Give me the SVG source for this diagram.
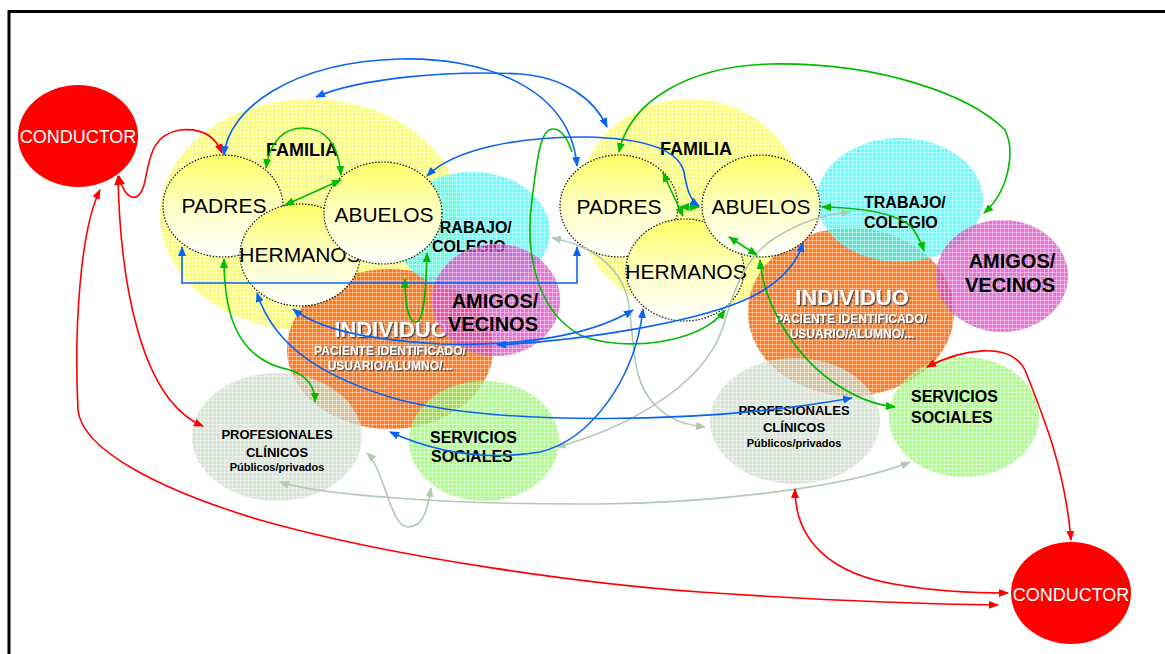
<svg xmlns="http://www.w3.org/2000/svg" width="1165" height="654" viewBox="0 0 1165 654">
<style>
.f{font-family:"Liberation Sans",Arial,sans-serif}
.b{font-weight:bold}
.m{text-anchor:middle}
.nd{fill:url(#ng);stroke:#111;stroke-width:1.2;stroke-dasharray:1.5 1.6}
.nt{font-size:21px;fill:#000}
.gr{fill:url(#grid)}
.c{fill:none;stroke-width:1.6}
.cb{stroke:#0a64f0;marker-start:url(#ab);marker-end:url(#ab)}
.cg{stroke:#00bb00;marker-start:url(#ag);marker-end:url(#ag)}
.cr{stroke:#ff0000;marker-start:url(#ar);marker-end:url(#ar)}
.cy{stroke:#b2c9b2;marker-start:url(#ay);marker-end:url(#ay)}
.ind{font-size:22px;fill:#fff;filter:url(#sh)}
.sub{font-size:12px;fill:#fff;filter:url(#sh)}
.cond{font-size:18px;fill:#fff}
</style>
<defs>
<linearGradient id="ng" x1="0" y1="0" x2="0" y2="1">
<stop offset="0" stop-color="#ffff66"/>
<stop offset="0.5" stop-color="#ffffc4"/>
<stop offset="1" stop-color="#ffffff"/>
</linearGradient>
<pattern id="grid" width="4" height="4" patternUnits="userSpaceOnUse">
<path d="M0 0.5H4M0.5 0V4" stroke="#ffffff" stroke-opacity="0.4" stroke-width="1"/>
</pattern>
<filter id="sh" x="-10%" y="-30%" width="120%" height="160%">
<feDropShadow dx="1.3" dy="1.3" stdDeviation="0.4" flood-color="#404040" flood-opacity="0.9"/>
</filter>
<marker id="ab" viewBox="0 0 10 8" refX="9" refY="4" markerWidth="10" markerHeight="8" markerUnits="userSpaceOnUse" orient="auto-start-reverse"><path d="M0,0L10,4L0,8z" fill="#0a64f0"/></marker>
<marker id="ag" viewBox="0 0 10 8" refX="9" refY="4" markerWidth="10" markerHeight="8" markerUnits="userSpaceOnUse" orient="auto-start-reverse"><path d="M0,0L10,4L0,8z" fill="#00bb00"/></marker>
<marker id="ar" viewBox="0 0 10 8" refX="9" refY="4" markerWidth="10" markerHeight="8" markerUnits="userSpaceOnUse" orient="auto-start-reverse"><path d="M0,0L10,4L0,8z" fill="#ff0000"/></marker>
<marker id="ay" viewBox="0 0 10 8" refX="9" refY="4" markerWidth="10" markerHeight="8" markerUnits="userSpaceOnUse" orient="auto-start-reverse"><path d="M0,0L10,4L0,8z" fill="#b2c9b2"/></marker>
</defs>
<rect width="1165" height="654" fill="#ffffff"/>
<path d="M9,654V11.5H1165" fill="none" stroke="#000" stroke-width="3"/>

<!-- left cluster -->
<g id="familia-izq">
<ellipse cx="310" cy="215" rx="150" ry="116" fill="#ffff40" fill-opacity="0.8"/>
<ellipse class="gr" cx="310" cy="215" rx="150" ry="116"/>
<text class="f b m" x="302" y="156" font-size="18">FAMILIA</text>
</g>
<g id="individuo-izq">
<ellipse cx="390" cy="349" rx="103" ry="80" fill="#ff6600" fill-opacity="0.88"/>
<ellipse class="gr" cx="390" cy="349" rx="103" ry="80"/>
<text class="f b m ind" x="391" y="337">INDIVIDUO</text>
<text class="f b m sub" x="390" y="355">PACIENTE IDENTIFICADO/</text>
<text class="f b m sub" x="390" y="370">USUARIO/ALUMNO/...</text>
</g>
<g id="trabajo-izq">
<ellipse cx="472" cy="232" rx="78" ry="60" fill="#33ffff" fill-opacity="0.75"/>
<ellipse class="gr" cx="472" cy="232" rx="78" ry="60"/>
<text class="f b" x="430" y="233" font-size="16">TRABAJO/</text>
<text class="f b" x="432" y="252" font-size="16">COLEGIO</text>
</g>
<g id="amigos-izq">
<ellipse cx="496" cy="300" rx="64" ry="56" fill="#dd44c8" fill-opacity="0.75"/>
<ellipse class="gr" cx="496" cy="300" rx="64" ry="56"/>
<text class="f b m" x="495" y="308" font-size="20">AMIGOS/</text>
<text class="f b m" x="493" y="331" font-size="20">VECINOS</text>
</g>
<g id="profesionales-izq">
<ellipse cx="277" cy="437" rx="85" ry="64" fill="#c8dcc6" fill-opacity="0.7"/>
<ellipse class="gr" cx="277" cy="437" rx="85" ry="64"/>
<text class="f b m" x="277" y="439" font-size="13">PROFESIONALES</text>
<text class="f b m" x="277" y="457" font-size="13">CLÍNICOS</text>
<text class="f b m" x="277" y="471" font-size="11">Públicos/privados</text>
</g>
<g id="servicios-izq">
<ellipse cx="484" cy="441" rx="75" ry="60" fill="#88ff55" fill-opacity="0.7"/>
<ellipse class="gr" cx="484" cy="441" rx="75" ry="60"/>
<text class="f b" x="430" y="443" font-size="16">SERVICIOS</text>
<text class="f b" x="431" y="462" font-size="16">SOCIALES</text>
</g>
<g id="padres-izq">
<ellipse class="nd" cx="223" cy="206" rx="60" ry="51"/>
<text class="f m nt" x="224" y="213" font-size="20">PADRES</text>
</g>
<g id="hermanos-izq">
<ellipse class="nd" cx="300" cy="255" rx="60" ry="51"/>
<text class="f m nt" x="300" y="262">HERMANOS</text>
</g>
<g id="abuelos-izq">
<ellipse class="nd" cx="383" cy="213" rx="59" ry="51"/>
<text class="f m nt" x="384" y="222">ABUELOS</text>
</g>
<g id="conductor-izq">
<ellipse cx="78" cy="136" rx="60" ry="51" fill="#ff0000"/>
<text class="f m cond" x="78" y="143">CONDUCTOR</text>
</g>

<!-- right cluster -->
<g id="familia-der">
<ellipse cx="690" cy="205" rx="113" ry="106" fill="#ffff40" fill-opacity="0.8"/>
<ellipse class="gr" cx="690" cy="205" rx="113" ry="106"/>
<text class="f b m" x="696" y="155" font-size="18">FAMILIA</text>
</g>
<g id="individuo-der">
<ellipse cx="851" cy="312" rx="103" ry="84" fill="#ff6600" fill-opacity="0.88"/>
<ellipse class="gr" cx="851" cy="312" rx="103" ry="84"/>
<text class="f b m ind" x="852" y="305">INDIVIDUO</text>
<text class="f b m sub" x="851" y="323">PACIENTE IDENTIFICADO/</text>
<text class="f b m sub" x="852" y="338">USUARIO/ALUMNO/...</text>
</g>
<g id="trabajo-der">
<ellipse cx="900" cy="200" rx="83" ry="62" fill="#33ffff" fill-opacity="0.75"/>
<ellipse class="gr" cx="900" cy="200" rx="83" ry="62"/>
<text class="f b" x="864" y="208" font-size="16">TRABAJO/</text>
<text class="f b" x="864" y="228" font-size="16">COLEGIO</text>
</g>
<g id="amigos-der">
<ellipse cx="1002" cy="276" rx="66" ry="56" fill="#dd44c8" fill-opacity="0.75"/>
<ellipse class="gr" cx="1002" cy="276" rx="66" ry="56"/>
<text class="f b m" x="1012" y="268" font-size="20">AMIGOS/</text>
<text class="f b m" x="1010" y="292" font-size="20">VECINOS</text>
</g>
<g id="profesionales-der">
<ellipse cx="795" cy="421" rx="85" ry="63" fill="#c8dcc6" fill-opacity="0.7"/>
<ellipse class="gr" cx="795" cy="421" rx="85" ry="63"/>
<text class="f b m" x="794" y="415" font-size="13">PROFESIONALES</text>
<text class="f b m" x="794" y="432" font-size="13">CLÍNICOS</text>
<text class="f b m" x="794" y="447" font-size="11">Públicos/privados</text>
</g>
<g id="servicios-der">
<ellipse cx="964" cy="417" rx="75" ry="60" fill="#88ff55" fill-opacity="0.7"/>
<ellipse class="gr" cx="964" cy="417" rx="75" ry="60"/>
<text class="f b" x="911" y="402" font-size="16">SERVICIOS</text>
<text class="f b" x="911" y="423" font-size="16">SOCIALES</text>
</g>
<g id="padres-der">
<ellipse class="nd" cx="619" cy="206" rx="59" ry="51"/>
<text class="f m nt" x="619" y="214" font-size="23">PADRES</text>
</g>
<g id="hermanos-der">
<ellipse class="nd" cx="685" cy="270" rx="59" ry="51"/>
<text class="f m nt" x="686" y="279">HERMANOS</text>
</g>
<g id="abuelos-der">
<ellipse class="nd" cx="761" cy="206" rx="59" ry="51"/>
<text class="f m nt" x="761" y="214">ABUELOS</text>
</g>
<g id="conductor-der">
<ellipse cx="1071" cy="593" rx="60" ry="51" fill="#ff0000"/>
<text class="f m cond" x="1071" y="601">CONDUCTOR</text>
</g>

<g id="connectors">
<!-- grey -->
<path class="c cy" d="M367,453 C385,470 390,527 408,527 C425,527 428,505 431,488"/>
<path class="c cy" d="M280,482 C320,495 450,505 600,504 C700,503 840,490 910,462"/>
<path class="c cy" d="M557,447 C620,430 700,390 722,330 C732,300 740,260 775,238 C800,222 825,214 850,212"/>
<path class="c cy" d="M552,238 C590,245 620,265 628,300 C635,340 630,380 655,405 C670,420 685,425 705,427"/>
<!-- red -->
<path class="c cr" d="M119,176 C125,200 138,205 144,185 C150,160 150,135 180,130 C200,128 215,135 222,153"/>
<path class="c cr" d="M118,176 C120,280 140,400 203,426"/>
<path class="c cr" d="M100,190 C80,230 74,330 78,410 C82,450 160,490 260,520 C400,560 600,585 700,592 C830,601 920,604 998,605"/>
<path class="c cr" d="M927,367 C960,350 1010,340 1025,370 C1045,420 1065,470 1071,540"/>
<path class="c cr" d="M795,489 C795,540 830,575 900,585 C940,592 975,593 1008,593"/>
<!-- green -->
<path class="c cg" d="M266,168 C270,140 285,128 303,128 C322,128 338,140 341,175"/>
<path class="c cg" d="M341,180 L285,205"/>
<path class="c cg" d="M224,259 C224,320 240,360 290,370 C305,375 315,385 315,402"/>
<path class="c cg" d="M405,279 C405,310 410,322 416,322 C424,322 426,290 427,253"/>
<path class="c cg" d="M619,152 C630,100 690,66 770,64 C880,62 970,95 1005,130 C1015,150 1010,190 984,213"/>
<path class="c" stroke="#00bb00" marker-start="url(#ag)" d="M725,310 C700,345 620,352 580,335 C535,310 525,250 532,200 C537,160 540,130 552,129 C562,128 568,140 572,152"/>
<path class="c cg" d="M663,173 L683,216"/>
<path class="c cg" d="M680,207 L699,207"/>
<path class="c cg" d="M729,237 L757,255"/>
<path class="c cg" d="M760,260 C763,300 790,350 830,380 C855,398 875,405 895,407"/>
<path class="c cg" d="M822,207 C870,208 905,215 915,232 C920,240 922,245 924,251"/>
<!-- blue -->
<path class="c cb" d="M224,155 C228,110 290,62 400,59 C480,57 570,85 577,166"/>
<path class="c cb" d="M316,97 C360,78 450,70 520,74 C565,77 595,100 607,127"/>
<path class="c cb" d="M427,176 C455,148 520,137 585,137 C640,138 678,148 684,172 C687,190 690,200 699,206"/>
<path class="c cb" d="M182,247 V283 H577 V247"/>
<path class="c cb" stroke-width="2.6" d="M803,243 C795,270 770,290 740,302 C690,322 590,340 497,345"/>
<path class="c cb" d="M293,309 C320,330 370,340 440,344 C540,347 600,330 633,310"/>
<path class="c cb" d="M257,293 C275,350 330,380 400,400 C500,425 700,425 852,398"/>
<path class="c cb" d="M643,309 C635,380 590,440 540,452 C480,462 430,450 390,432"/>
</g>
</svg>
